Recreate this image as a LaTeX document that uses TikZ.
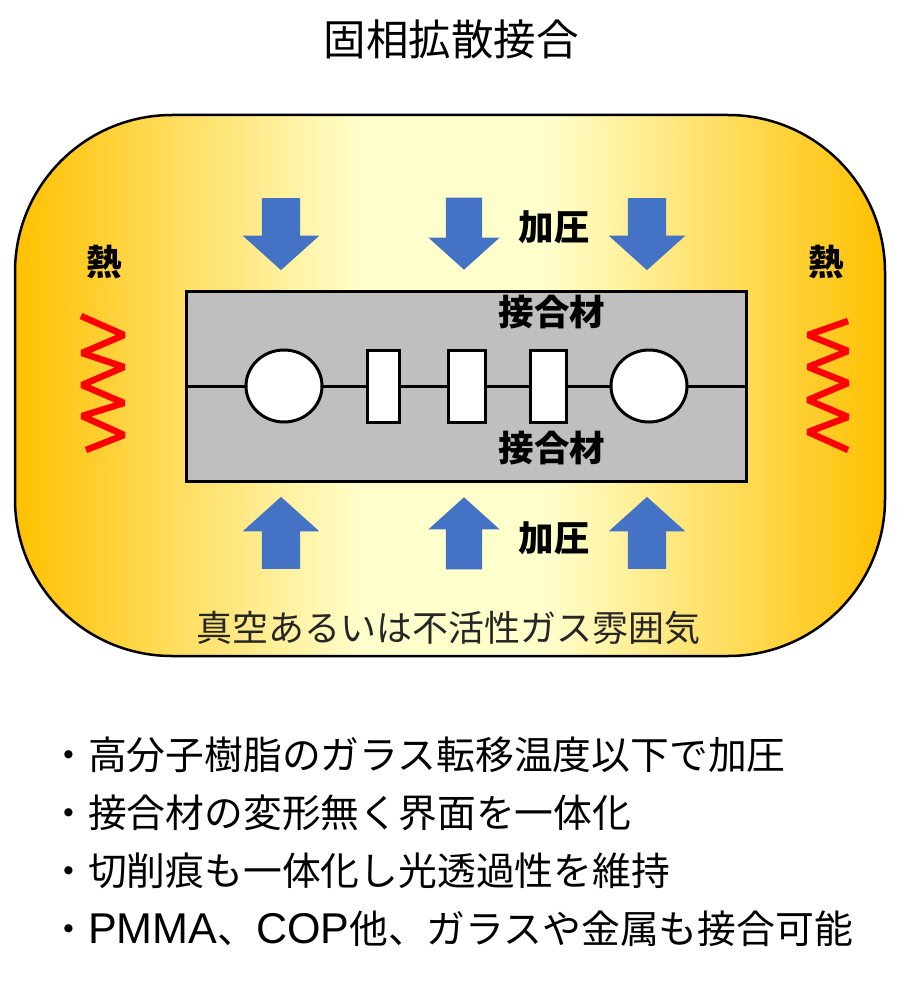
\documentclass[tikz,border=0pt]{standalone}
\usepackage{fontspec}
\setmainfont{Noto Sans CJK JP}
\newfontfamily\latinfont[Scale=1.11]{Liberation Sans}
\usepackage{xcolor}
\usetikzlibrary{arrows.meta,positioning,shapes.arrows,shapes.geometric}
\definecolor{Heat}{HTML}{FFC000}
\definecolor{Pale}{HTML}{FFFFCC}
\definecolor{Press}{HTML}{4472C4}
\definecolor{Bond}{HTML}{BFBFBF}
\pgfdeclarehorizontalshading{chamberfill}{100bp}{color(0bp)=(Heat); color(25bp)=(Heat); color(45bp)=(Pale); color(55.5bp)=(Pale); color(75bp)=(Heat); color(100bp)=(Heat)}

\tikzset{
  pressdown/.style={single arrow,fill=Press,inner xsep=19pt,inner ysep=0pt,minimum width=76pt,minimum height=72pt,
    single arrow head extend=19pt,single arrow head indent=0pt,single arrow tip angle=96,shape border rotate=270},
  pressup/.style={pressdown,shape border rotate=90},
  narrow/.style={inner xsep=18pt,minimum width=71pt,single arrow head extend=17.5pt},
  gap/.style={draw=black,line width=3pt,fill=white,inner sep=0pt},
  pore/.style={gap,ellipse,minimum width=76pt,minimum height=72pt},
  heatline/.style={draw=red,line width=6.5pt,line join=bevel},
  boldlabel/.style={font=\fontsize{35.5}{40}\selectfont\bfseries,inner sep=0pt},
  bullet/.style={font=\fontsize{38.8}{44}\selectfont,anchor=west,inner sep=0pt}
}

\begin{document}
\begin{tikzpicture}[x=1pt,y=-1pt]
  \useasboundingbox (0,0) rectangle (902,1000);
  \node[font=\fontsize{42.5}{48}\selectfont,inner sep=0pt] (title) at (451,39){固相拡散接合};

  % chamber with the gradient
  \node[draw=black,line width=2.5pt,rounded corners=157pt,shading=chamberfill,shading angle=0,
    minimum width=870pt,minimum height=541pt,inner sep=0pt] (chamber) at (450,385.5){};
  \node[font=\fontsize{36}{40}\selectfont,inner sep=0pt,text=black!85] (gas) at (448,628){真空あるいは不活性ガス雰囲気};

  % bonded plates
  \node[draw=black,line width=3pt,fill=Bond,minimum width=560pt,minimum height=190pt,inner sep=0pt] (plate) at (466,386){};
  \draw[line width=3pt] (plate.west)--(plate.east);
  \node[pore] (pore1) at (284,386){};
  \node[gap,minimum width=32pt,minimum height=72pt] (slit1) at (383,386){};
  \node[gap,minimum width=37pt,minimum height=72pt] (slit2) at (466.5,386){};
  \node[gap,minimum width=36pt,minimum height=72pt] (slit3) at (548,386){};
  \node[pore] (pore2) at (649,386){};
  \node[boldlabel] (upper) at (552,312){接合材};
  \node[boldlabel] (lower) at (552,448){接合材};

  % pressure arrows
  \node[pressdown] (d1) at (281,225.5){};
  \node[pressdown,narrow] (d2) at (464,225.5){};
  \node[pressdown] (d3) at (647,225.5){};
  \node[pressup] (u1) at (281,541.5){};
  \node[pressup,narrow] (u2) at (464,541.5){};
  \node[pressup] (u3) at (647,541.5){};
  \node[boldlabel] (ptop) at (554,227){加圧};
  \node[boldlabel] (pbot) at (554,538){加圧};

  % heat
  \node[boldlabel] (heatl) at (104,262){熱};
  \node[boldlabel] (heatr) at (826,262){熱};
  \draw[heatline] (81,316)--(124,335)--(82,353)--(124,367)--(82,385)--(124,403)--(82,416)--(124,435)--(86,450);
  \draw[heatline] (848,321)--(808,335)--(848,351)--(808,367)--(848,383)--(808,400)--(848,417)--(808,432)--(848,450);

  % list below
  \node[bullet] (b1) at (49,755){・高分子樹脂のガラス転移温度以下で加圧};
  \node[bullet] (b2) at (49,813){・接合材の変形無く界面を一体化};
  \node[bullet] (b3) at (49,871){・切削痕も一体化し光透過性を維持};
  \node[bullet] (b4) at (49,929){・{\latinfont PMMA}、{\latinfont COP}他、ガラスや金属も接合可能};
\end{tikzpicture}
\end{document}
